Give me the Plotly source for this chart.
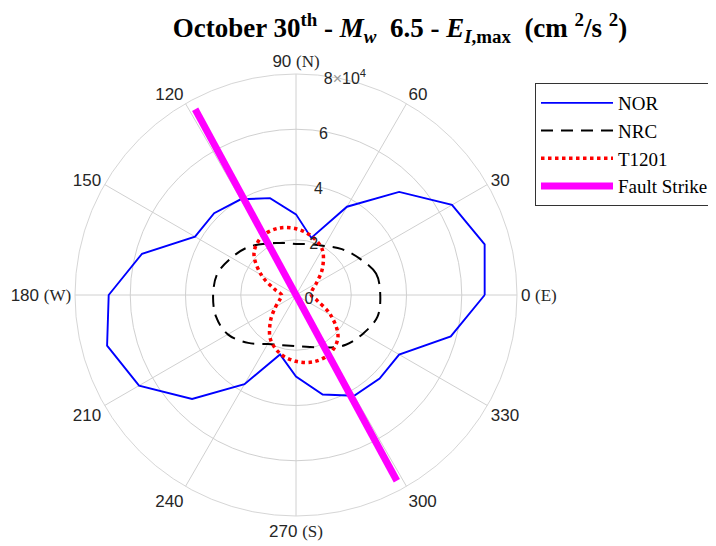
import plotly.graph_objects as go

theta = [0, 15, 30, 45, 60, 75, 90, 105, 120, 135, 150, 165,
         180, 195, 210, 225, 240, 255, 270, 285, 300, 315, 330, 345, 360]

nor = [6.83, 7.07, 6.52, 5.28, 3.69, 2.14, 2.92, 3.63, 4.00, 4.19, 4.22, 5.77,
       6.78, 7.08, 6.56, 5.32, 3.73, 2.23, 2.95, 3.73, 4.21, 4.28, 4.31, 5.80, 6.83]
nrc = [3.05, 3.00, 2.65, 2.35, 2.05, 1.90, 1.85, 1.95, 2.15, 2.45, 2.70, 2.95,
       3.00, 3.00, 2.85, 2.45, 2.05, 1.88, 1.85, 1.95, 2.20, 2.55, 2.80, 3.05, 3.05]
t1201 = [0.55, 0.60, 0.85, 1.35, 1.90, 2.20, 2.40, 2.50, 2.45, 2.15, 1.45, 0.80,
         0.52, 0.60, 0.85, 1.30, 1.85, 2.20, 2.40, 2.50, 2.45, 2.15, 1.45, 0.80, 0.55]
scale = 1e4

fault_theta = [118.5, 0, 298.5]
fault_r = [7.65, 0, 7.65]

ang_ticks = [0, 30, 60, 90, 120, 150, 180, 210, 240, 270, 300, 330]
serif_span = "<span style='font-family:Liberation Serif'>%s</span>"
ang_labels = ["0 " + serif_span % "(E)", "30", "60", "90 " + serif_span % "(N)", "120", "150",
              "180 " + serif_span % "(W)", "210", "240", "270 " + serif_span % "(S)", "300", "330"]
rad_ticks = [0, 2, 4, 6, 8]
rad_labels = ["0", "2", "4", "6", "8<span style='fill:#999'>×</span>10<sup>4</sup>"]

W, H, OFF = 716, 546, 8  # page body margin shifts the plot by OFF px


def px_x(x):
    return (x - OFF) / W


def px_y(y):
    return 1 - (y - OFF) / H


fig = go.Figure()
fig.add_trace(go.Scatterpolar(r=[v * scale for v in nor], theta=theta, mode="lines",
                              name="NOR", line=dict(color="#0000ff", width=1.9)))
fig.add_trace(go.Scatterpolar(r=[v * scale for v in nrc], theta=theta, mode="lines",
                              name="NRC", line=dict(color="#000000", width=2, dash="12px,8px", shape="spline")))
fig.add_trace(go.Scatterpolar(r=[v * scale for v in t1201], theta=theta, mode="lines",
                              name="T1201", line=dict(color="#ff0000", width=3.5, dash="dot", shape="spline")))
fig.add_trace(go.Scatterpolar(r=[v * scale for v in fault_r], theta=fault_theta, mode="lines",
                              name="Fault Strike", line=dict(color="#ff00ff", width=7)))

fig.update_layout(
    width=W, height=H,
    margin=dict(l=0, r=0, t=0, b=0),
    paper_bgcolor="white",
    title=dict(
        text="<b>October 30<sup>th</sup> - <i>M</i><sub><i>w</i></sub>  6.5 - <i>E</i><sub><i>I</i>,max</sub>  (cm <sup>2</sup>/s <sup>2</sup>)</b>",
        x=px_x(400), xanchor="center", y=px_y(28), yanchor="middle",
        font=dict(family="Liberation Serif", size=27, color="black")),
    polar=dict(
        domain=dict(x=[px_x(75), px_x(517)], y=[px_y(516), px_y(74)]),
        bgcolor="white",
        angularaxis=dict(rotation=0, direction="counterclockwise",
                         tickmode="array", tickvals=ang_ticks, ticktext=ang_labels,
                         showgrid=True, gridcolor="#d0d0d0", gridwidth=1,
                         showline=True, linecolor="#d6d6d6", linewidth=1,
                         ticks="", tickfont=dict(family="Liberation Sans", size=17, color="#262626")),
        radialaxis=dict(range=[0, 8 * scale], angle=85, tickangle=85,
                        tickmode="array", tickvals=[v * scale for v in rad_ticks], ticktext=rad_labels,
                        showgrid=True, gridcolor="#d0d0d0", gridwidth=1,
                        showline=False, ticks="",
                        tickfont=dict(family="Liberation Sans", size=16, color="#262626")),
    ),
    legend=dict(x=px_x(535), y=px_y(83), xanchor="left", yanchor="top",
                bgcolor="white", bordercolor="#333333", borderwidth=1,
                font=dict(family="Liberation Serif", size=19, color="black"),
                itemwidth=72, tracegroupgap=0),
    showlegend=True,
)

fig.write_html("out.html")
